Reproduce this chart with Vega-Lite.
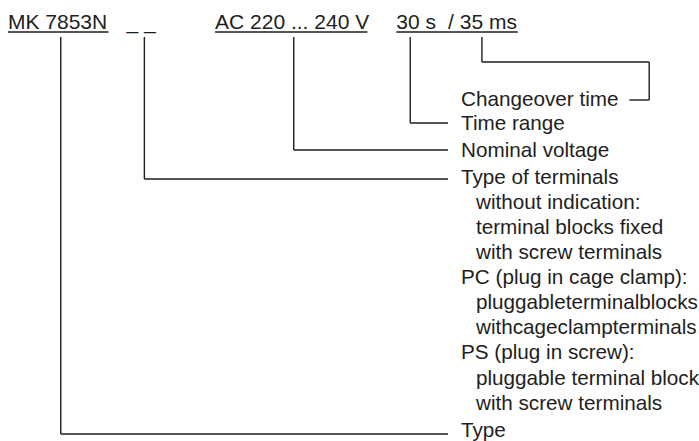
{
  "$schema": "https://vega.github.io/schema/vega-lite/v6.json",
  "width": 699,
  "height": 441,
  "autosize": {"type": "fit", "contains": "padding"},
  "padding": 0,
  "background": "white",
  "config": {"view": {"stroke": null}},
  "datasets": {
    "segments": [
      {"part": "Type", "x": 61, "y": 37, "x2": 61, "y2": 434},
      {"part": "Type", "x": 61, "y": 434, "x2": 450, "y2": 434},
      {"part": "Terminals", "x": 145, "y": 37, "x2": 145, "y2": 179},
      {"part": "Terminals", "x": 145, "y": 179, "x2": 450, "y2": 179},
      {"part": "Voltage", "x": 295, "y": 37, "x2": 295, "y2": 150},
      {"part": "Voltage", "x": 295, "y": 150, "x2": 450, "y2": 150},
      {"part": "Time range", "x": 412, "y": 37, "x2": 412, "y2": 123},
      {"part": "Time range", "x": 412, "y": 123, "x2": 450, "y2": 123},
      {"part": "Changeover", "x": 484, "y": 37, "x2": 484, "y2": 62},
      {"part": "Changeover", "x": 484, "y": 62, "x2": 652, "y2": 62},
      {"part": "Changeover", "x": 652, "y": 62, "x2": 652, "y2": 100},
      {"part": "Changeover", "x": 652, "y": 100, "x2": 632, "y2": 100},
      {"part": "underline", "x": 8, "y": 32, "x2": 109, "y2": 32},
      {"part": "underline", "x": 216, "y": 32, "x2": 369, "y2": 32},
      {"part": "underline", "x": 398, "y": 32, "x2": 520, "y2": 32}
    ],
    "header": [
      {"text": "MK 7853N", "x": 8, "y": 29},
      {"text": "_ _", "x": 127, "y": 29},
      {"text": "AC 220 ... 240 V", "x": 216, "y": 29},
      {"text": "30 s", "x": 398, "y": 29},
      {"text": "/ 35 ms", "x": 450, "y": 29}
    ],
    "labels": [
      {"text": "Changeover time", "x": 463, "y": 106},
      {"text": "Time range", "x": 463, "y": 130},
      {"text": "Nominal voltage", "x": 463, "y": 157},
      {"text": "Type of terminals", "x": 463, "y": 184},
      {"text": "without indication:", "x": 478, "y": 209},
      {"text": "terminal blocks fixed", "x": 478, "y": 234},
      {"text": "with screw terminals", "x": 478, "y": 259},
      {"text": "PC (plug in cage clamp):", "x": 463, "y": 284},
      {"text": "pluggableterminalblocks", "x": 478, "y": 309},
      {"text": "withcageclampterminals", "x": 478, "y": 334},
      {"text": "PS (plug in screw):", "x": 463, "y": 359},
      {"text": "pluggable terminal block", "x": 478, "y": 385},
      {"text": "with screw terminals", "x": 478, "y": 410},
      {"text": "Type", "x": 463, "y": 437}
    ]
  },
  "layer": [
    {
      "data": {"name": "segments"},
      "mark": {"type": "rule", "color": "#1e1e1e", "strokeWidth": 1.4},
      "encoding": {
        "x": {"field": "x", "type": "quantitative", "scale": {"domain": [0, 699], "nice": false, "zero": false}, "axis": null},
        "y": {"field": "y", "type": "quantitative", "scale": {"domain": [0, 441], "nice": false, "zero": false, "reverse": true}, "axis": null},
        "x2": {"field": "x2"},
        "y2": {"field": "y2"}
      }
    },
    {
      "data": {"name": "header"},
      "mark": {"type": "text", "align": "left", "baseline": "alphabetic", "font": "Liberation Sans", "fontSize": 21, "color": "#1e1e1e"},
      "encoding": {
        "x": {"field": "x", "type": "quantitative", "scale": {"domain": [0, 699], "nice": false, "zero": false}, "axis": null},
        "y": {"field": "y", "type": "quantitative", "scale": {"domain": [0, 441], "nice": false, "zero": false, "reverse": true}, "axis": null},
        "text": {"field": "text"}
      }
    },
    {
      "data": {"name": "labels"},
      "mark": {"type": "text", "align": "left", "baseline": "alphabetic", "font": "Liberation Sans", "fontSize": 20.7, "color": "#1e1e1e"},
      "encoding": {
        "x": {"field": "x", "type": "quantitative", "scale": {"domain": [0, 699], "nice": false, "zero": false}, "axis": null},
        "y": {"field": "y", "type": "quantitative", "scale": {"domain": [0, 441], "nice": false, "zero": false, "reverse": true}, "axis": null},
        "text": {"field": "text"}
      }
    }
  ]
}
